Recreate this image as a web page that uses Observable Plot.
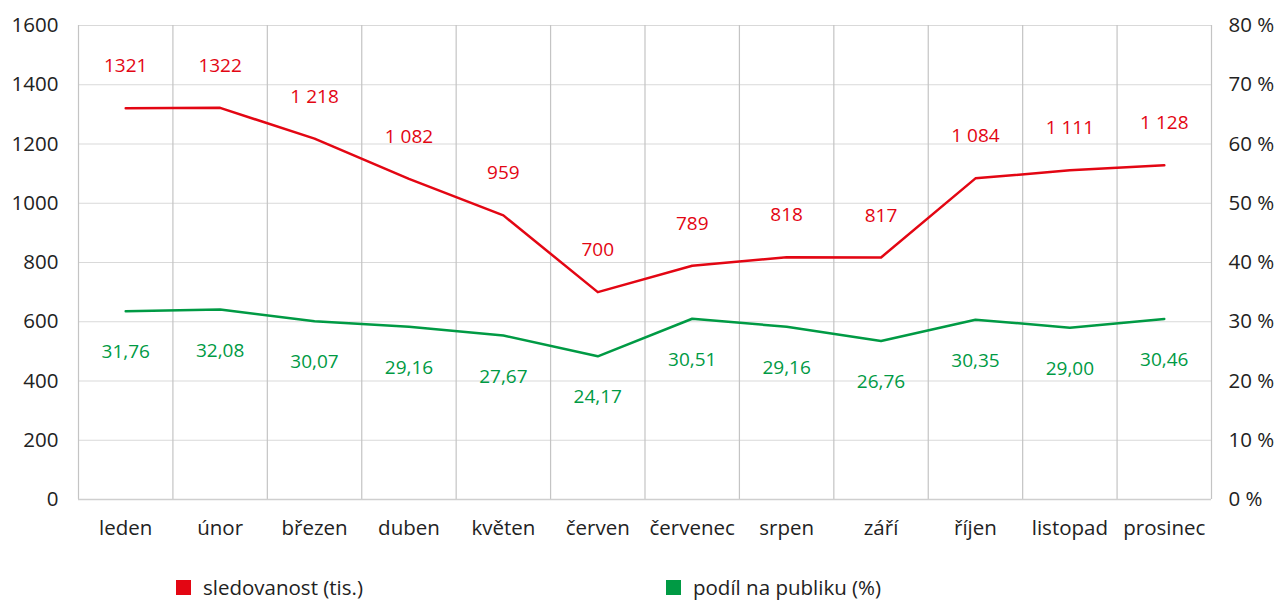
<!DOCTYPE html>
<html><head><meta charset="utf-8">
<script src="https://cdn.jsdelivr.net/npm/d3@7"></script>
<script src="https://cdn.jsdelivr.net/npm/@observablehq/plot@0.6"></script>
<style>
body{margin:0;background:#fff;font-family:"Open Sans",sans-serif;}
#legend{position:relative;height:31px;font-size:20.5px;color:#222;}
.li{position:absolute;top:6px;display:flex;align-items:center;line-height:23px;height:23px;}
.sw{width:15px;height:15px;margin-right:12px;}
</style></head><body>
<div id="chart"></div>
<div id="legend">
  <div class="li" style="left:176px"><span class="sw" style="background:#e30613"></span>sledovanost (tis.)</div>
  <div class="li" style="left:666px"><span class="sw" style="background:#009a44"></span>podíl na publiku (%)</div>
</div>
<script>
const months = ["leden","únor","březen","duben","květen","červen","červenec","srpen","září","říjen","listopad","prosinec"];
const viewers = [1321,1322,1218,1082,959,700,789,818,817,1084,1111,1128];
const viewerLabels = ["1321","1322","1 218","1 082","959","700","789","818","817","1 084","1 111","1 128"];
const share = [31.76,32.08,30.07,29.16,27.67,24.17,30.51,29.16,26.76,30.35,29.00,30.46];
const shareLabels = ["31,76","32,08","30,07","29,16","27,67","24,17","30,51","29,16","26,76","30,35","29,00","30,46"];
const leftTicks = [0,200,400,600,800,1000,1200,1400,1600];
const rightTickLabels = ["0 %","10 %","20 %","30 %","40 %","50 %","60 %","70 %","80 %"];

const RED = "#e30613", GREEN = "#009a44";
const scaleFactor = 1600/80;
const vData = months.map((m,i)=>({i:i+0.5, v:viewers[i], lab:viewerLabels[i]}));
const sData = months.map((m,i)=>({i:i+0.5, v:share[i]*scaleFactor, lab:shareLabels[i]}));
const bounds = d3.range(0,13);

const chart = Plot.plot({
  width:1279, height:570,
  marginLeft:78, marginRight:68, marginTop:25, marginBottom:71,
  style:{fontFamily:"Open Sans, sans-serif", fontSize:"20px", color:"#222"},
  x:{domain:[0,12]},
  y:{domain:[0,1600]},
  marks:[
    Plot.ruleY(leftTicks.slice(1), {stroke:"#d9d9d9", strokeWidth:1.2}),
    Plot.ruleX(bounds, {stroke:"#c4c4c4", strokeWidth:1.2}),
    Plot.ruleY([0], {stroke:"#cfcfcf", strokeWidth:1.5}),
    Plot.axisY({anchor:"left", ticks:leftTicks, tickSize:0, tickPadding:20, fontSize:20.5, label:null,
      tickFormat:(d)=>String(d)}),
    Plot.axisY({anchor:"right", ticks:leftTicks, tickSize:0, tickPadding:17, fontSize:20.5, label:null,
      tickFormat:(d)=>rightTickLabels[leftTicks.indexOf(d)], textAnchor:"start"}),
    Plot.axisX({ticks:d3.range(12).map(i=>i+0.5), tickSize:0, tickPadding:21, fontSize:20.5, label:null,
      tickFormat:(d)=>months[Math.floor(d)]}),
    Plot.line(vData, {x:"i", y:"v", stroke:RED, strokeWidth:2.5}),
    Plot.line(sData, {x:"i", y:"v", stroke:GREEN, strokeWidth:2.5}),
    Plot.text(vData, {x:"i", y:"v", text:"lab", dy:-42, fill:RED, fontSize:19}),
    Plot.text(sData, {x:"i", y:"v", text:"lab", dy:41, fill:GREEN, fontSize:19})
  ]
});
document.getElementById("chart").appendChild(chart);
</script>
</body></html>
